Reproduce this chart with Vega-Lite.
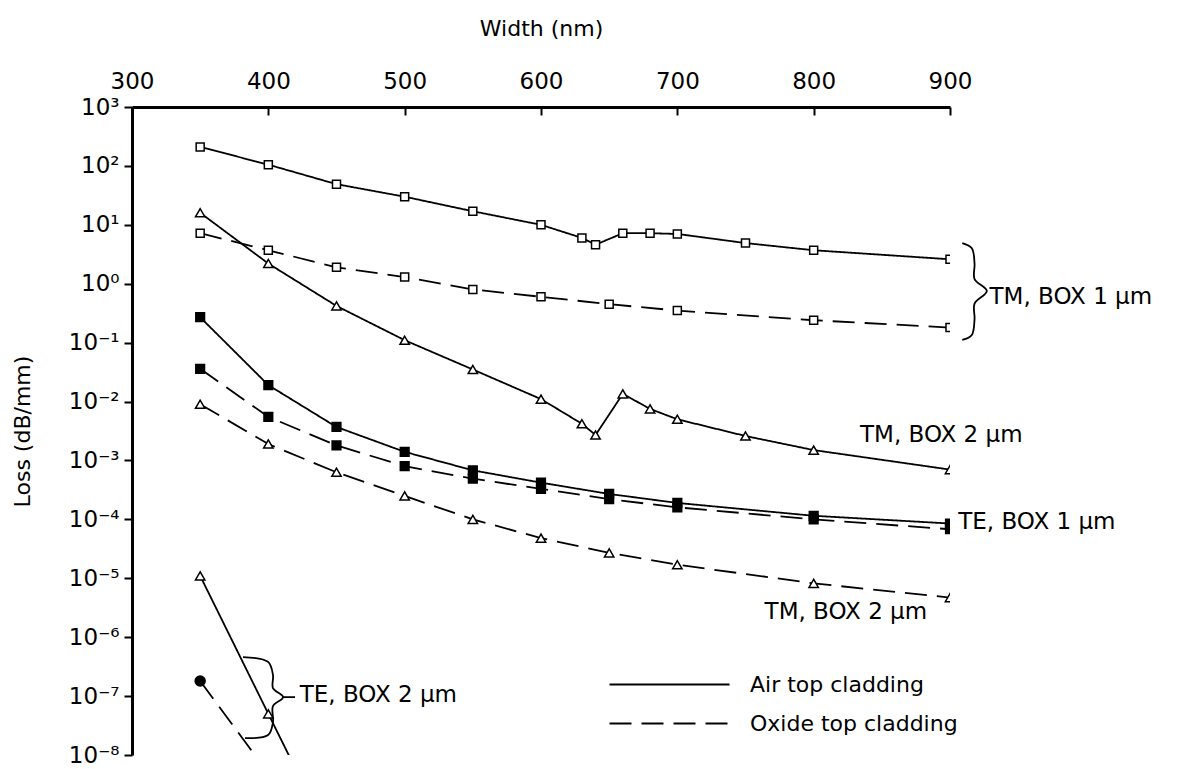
{
  "$schema": "https://vega.github.io/schema/vega-lite/v6.json",
  "width": 818,
  "height": 648,
  "autosize": "none",
  "padding": {"left": 132, "top": 107, "right": 240, "bottom": 14},
  "background": "white",
  "config": {"view": {"stroke": null}, "font": "DejaVu Sans"},
  "datasets": {
    "curves": [
      {"series": "TM BOX1 air", "cladding": "Air top cladding", "marker": "open square", "width": 350, "loss": 210},
      {"series": "TM BOX1 air", "cladding": "Air top cladding", "marker": "open square", "width": 400, "loss": 105},
      {"series": "TM BOX1 air", "cladding": "Air top cladding", "marker": "open square", "width": 450, "loss": 49},
      {"series": "TM BOX1 air", "cladding": "Air top cladding", "marker": "open square", "width": 500, "loss": 30},
      {"series": "TM BOX1 air", "cladding": "Air top cladding", "marker": "open square", "width": 550, "loss": 17},
      {"series": "TM BOX1 air", "cladding": "Air top cladding", "marker": "open square", "width": 600, "loss": 10},
      {"series": "TM BOX1 air", "cladding": "Air top cladding", "marker": "open square", "width": 630, "loss": 6.0},
      {"series": "TM BOX1 air", "cladding": "Air top cladding", "marker": "open square", "width": 640, "loss": 4.6},
      {"series": "TM BOX1 air", "cladding": "Air top cladding", "marker": "open square", "width": 660, "loss": 7.2},
      {"series": "TM BOX1 air", "cladding": "Air top cladding", "marker": "open square", "width": 680, "loss": 7.2},
      {"series": "TM BOX1 air", "cladding": "Air top cladding", "marker": "open square", "width": 700, "loss": 7.0},
      {"series": "TM BOX1 air", "cladding": "Air top cladding", "marker": "open square", "width": 750, "loss": 4.9},
      {"series": "TM BOX1 air", "cladding": "Air top cladding", "marker": "open square", "width": 800, "loss": 3.7},
      {"series": "TM BOX1 air", "cladding": "Air top cladding", "marker": "open square", "width": 900, "loss": 2.6},

      {"series": "TM BOX1 oxide", "cladding": "Oxide top cladding", "marker": "open square", "width": 350, "loss": 7.2},
      {"series": "TM BOX1 oxide", "cladding": "Oxide top cladding", "marker": "open square", "width": 400, "loss": 3.7},
      {"series": "TM BOX1 oxide", "cladding": "Oxide top cladding", "marker": "open square", "width": 450, "loss": 1.9},
      {"series": "TM BOX1 oxide", "cladding": "Oxide top cladding", "marker": "open square", "width": 500, "loss": 1.3},
      {"series": "TM BOX1 oxide", "cladding": "Oxide top cladding", "marker": "open square", "width": 550, "loss": 0.8},
      {"series": "TM BOX1 oxide", "cladding": "Oxide top cladding", "marker": "open square", "width": 600, "loss": 0.6},
      {"series": "TM BOX1 oxide", "cladding": "Oxide top cladding", "marker": "open square", "width": 650, "loss": 0.45},
      {"series": "TM BOX1 oxide", "cladding": "Oxide top cladding", "marker": "open square", "width": 700, "loss": 0.35},
      {"series": "TM BOX1 oxide", "cladding": "Oxide top cladding", "marker": "open square", "width": 800, "loss": 0.24},
      {"series": "TM BOX1 oxide", "cladding": "Oxide top cladding", "marker": "open square", "width": 900, "loss": 0.18},

      {"series": "TM BOX2 air", "cladding": "Air top cladding", "marker": "open triangle", "width": 350, "loss": 16},
      {"series": "TM BOX2 air", "cladding": "Air top cladding", "marker": "open triangle", "width": 400, "loss": 2.2},
      {"series": "TM BOX2 air", "cladding": "Air top cladding", "marker": "open triangle", "width": 450, "loss": 0.42},
      {"series": "TM BOX2 air", "cladding": "Air top cladding", "marker": "open triangle", "width": 500, "loss": 0.11},
      {"series": "TM BOX2 air", "cladding": "Air top cladding", "marker": "open triangle", "width": 550, "loss": 0.035},
      {"series": "TM BOX2 air", "cladding": "Air top cladding", "marker": "open triangle", "width": 600, "loss": 0.011},
      {"series": "TM BOX2 air", "cladding": "Air top cladding", "marker": "open triangle", "width": 630, "loss": 0.0042},
      {"series": "TM BOX2 air", "cladding": "Air top cladding", "marker": "open triangle", "width": 640, "loss": 0.0027},
      {"series": "TM BOX2 air", "cladding": "Air top cladding", "marker": "open triangle", "width": 660, "loss": 0.0135},
      {"series": "TM BOX2 air", "cladding": "Air top cladding", "marker": "open triangle", "width": 680, "loss": 0.0075},
      {"series": "TM BOX2 air", "cladding": "Air top cladding", "marker": "open triangle", "width": 700, "loss": 0.005},
      {"series": "TM BOX2 air", "cladding": "Air top cladding", "marker": "open triangle", "width": 750, "loss": 0.0026},
      {"series": "TM BOX2 air", "cladding": "Air top cladding", "marker": "open triangle", "width": 800, "loss": 0.0015},
      {"series": "TM BOX2 air", "cladding": "Air top cladding", "marker": "open triangle", "width": 900, "loss": 0.0007},

      {"series": "TE BOX1 air", "cladding": "Air top cladding", "marker": "filled square", "width": 350, "loss": 0.27},
      {"series": "TE BOX1 air", "cladding": "Air top cladding", "marker": "filled square", "width": 400, "loss": 0.019},
      {"series": "TE BOX1 air", "cladding": "Air top cladding", "marker": "filled square", "width": 450, "loss": 0.0037},
      {"series": "TE BOX1 air", "cladding": "Air top cladding", "marker": "filled square", "width": 500, "loss": 0.0014},
      {"series": "TE BOX1 air", "cladding": "Air top cladding", "marker": "filled square", "width": 550, "loss": 0.00068},
      {"series": "TE BOX1 air", "cladding": "Air top cladding", "marker": "filled square", "width": 600, "loss": 0.00042},
      {"series": "TE BOX1 air", "cladding": "Air top cladding", "marker": "filled square", "width": 650, "loss": 0.00027},
      {"series": "TE BOX1 air", "cladding": "Air top cladding", "marker": "filled square", "width": 700, "loss": 0.00019},
      {"series": "TE BOX1 air", "cladding": "Air top cladding", "marker": "filled square", "width": 800, "loss": 0.000115},
      {"series": "TE BOX1 air", "cladding": "Air top cladding", "marker": "filled square", "width": 900, "loss": 0.000085},

      {"series": "TE BOX1 oxide", "cladding": "Oxide top cladding", "marker": "filled square", "width": 350, "loss": 0.036},
      {"series": "TE BOX1 oxide", "cladding": "Oxide top cladding", "marker": "filled square", "width": 400, "loss": 0.0055},
      {"series": "TE BOX1 oxide", "cladding": "Oxide top cladding", "marker": "filled square", "width": 450, "loss": 0.0018},
      {"series": "TE BOX1 oxide", "cladding": "Oxide top cladding", "marker": "filled square", "width": 500, "loss": 0.0008},
      {"series": "TE BOX1 oxide", "cladding": "Oxide top cladding", "marker": "filled square", "width": 550, "loss": 0.00049},
      {"series": "TE BOX1 oxide", "cladding": "Oxide top cladding", "marker": "filled square", "width": 600, "loss": 0.00033},
      {"series": "TE BOX1 oxide", "cladding": "Oxide top cladding", "marker": "filled square", "width": 650, "loss": 0.00022},
      {"series": "TE BOX1 oxide", "cladding": "Oxide top cladding", "marker": "filled square", "width": 700, "loss": 0.00016},
      {"series": "TE BOX1 oxide", "cladding": "Oxide top cladding", "marker": "filled square", "width": 800, "loss": 0.0001},
      {"series": "TE BOX1 oxide", "cladding": "Oxide top cladding", "marker": "filled square", "width": 900, "loss": 0.000068},

      {"series": "TM BOX2 oxide", "cladding": "Oxide top cladding", "marker": "open triangle", "width": 350, "loss": 0.009},
      {"series": "TM BOX2 oxide", "cladding": "Oxide top cladding", "marker": "open triangle", "width": 400, "loss": 0.0019},
      {"series": "TM BOX2 oxide", "cladding": "Oxide top cladding", "marker": "open triangle", "width": 450, "loss": 0.00063},
      {"series": "TM BOX2 oxide", "cladding": "Oxide top cladding", "marker": "open triangle", "width": 500, "loss": 0.00025},
      {"series": "TM BOX2 oxide", "cladding": "Oxide top cladding", "marker": "open triangle", "width": 550, "loss": 0.0001},
      {"series": "TM BOX2 oxide", "cladding": "Oxide top cladding", "marker": "open triangle", "width": 600, "loss": 0.000048},
      {"series": "TM BOX2 oxide", "cladding": "Oxide top cladding", "marker": "open triangle", "width": 650, "loss": 0.000027},
      {"series": "TM BOX2 oxide", "cladding": "Oxide top cladding", "marker": "open triangle", "width": 700, "loss": 0.000017},
      {"series": "TM BOX2 oxide", "cladding": "Oxide top cladding", "marker": "open triangle", "width": 800, "loss": 0.0000082},
      {"series": "TM BOX2 oxide", "cladding": "Oxide top cladding", "marker": "open triangle", "width": 900, "loss": 0.0000047},

      {"series": "TE BOX2 air", "cladding": "Air top cladding", "marker": "open triangle", "width": 350, "loss": 0.000011},
      {"series": "TE BOX2 air", "cladding": "Air top cladding", "marker": "open triangle", "width": 400, "loss": 0.00000005},
      {"series": "TE BOX2 air", "cladding": "Air top cladding", "marker": "open triangle", "width": 450, "loss": 0.00000000023},

      {"series": "TE BOX2 oxide", "cladding": "Oxide top cladding", "marker": "dot", "width": 350, "loss": 0.00000018},
      {"series": "TE BOX2 oxide", "cladding": "Oxide top cladding", "marker": "dot", "width": 400, "loss": 0.0000000049}
    ],
    "labels": [
      {"width": 929, "loss": 0.59, "text": "TM, BOX 1 µm"},
      {"width": 834, "loss": 0.0027, "text": "TM, BOX 2 µm"},
      {"width": 906, "loss": 0.000089, "text": "TE, BOX 1 µm"},
      {"width": 764, "loss": 0.0000027, "text": "TM, BOX 2 µm"},
      {"width": 423, "loss": 0.000000105, "text": "TE, BOX 2 µm"}
    ],
    "braces": [
      {"brace": "TM BOX1", "idx": 0, "width": 909, "loss": 4.9},
      {"brace": "TM BOX1", "idx": 1, "width": 916, "loss": 4.0},
      {"brace": "TM BOX1", "idx": 2, "width": 918, "loss": 2.2},
      {"brace": "TM BOX1", "idx": 3, "width": 918, "loss": 1.2},
      {"brace": "TM BOX1", "idx": 4, "width": 927, "loss": 0.75},
      {"brace": "TM BOX1", "idx": 5, "width": 918, "loss": 0.46},
      {"brace": "TM BOX1", "idx": 6, "width": 918, "loss": 0.25},
      {"brace": "TM BOX1", "idx": 7, "width": 916, "loss": 0.135},
      {"brace": "TM BOX1", "idx": 8, "width": 909, "loss": 0.111},
      {"brace": "TE BOX2", "idx": 0, "width": 381.4, "loss": 0.00000046},
      {"brace": "TE BOX2", "idx": 1, "width": 399.8, "loss": 0.00000038},
      {"brace": "TE BOX2", "idx": 2, "width": 403.4, "loss": 0.000000227},
      {"brace": "TE BOX2", "idx": 3, "width": 403.4, "loss": 0.000000137},
      {"brace": "TE BOX2", "idx": 4, "width": 410.8, "loss": 0.000000096},
      {"brace": "TE BOX2", "idx": 5, "width": 403.4, "loss": 0.0000000676},
      {"brace": "TE BOX2", "idx": 6, "width": 403.4, "loss": 0.000000036},
      {"brace": "TE BOX2", "idx": 7, "width": 399.8, "loss": 0.0000000218},
      {"brace": "TE BOX2", "idx": 8, "width": 382.9, "loss": 0.0000000194},
      {"brace": "TE BOX2 leader", "idx": 0, "width": 410.8, "loss": 0.000000096},
      {"brace": "TE BOX2 leader", "idx": 1, "width": 419.6, "loss": 0.000000096}
    ]
  },
  "layer": [
    {
      "data": {"name": "curves"},
      "mark": {"type": "line", "clip": true, "strokeWidth": 1.8, "color": "black"},
      "encoding": {
        "x": {
          "field": "width", "type": "quantitative",
          "scale": {"domain": [300, 900], "nice": false, "zero": false},
          "axis": {
            "orient": "top", "title": "Width (nm)", "values": [300, 400, 500, 600, 700, 800, 900],
            "grid": false, "domainColor": "black", "domainWidth": 3, "tickColor": "black", "tickWidth": 2, "tickSize": -8,
            "labelFont": "DejaVu Sans", "labelFontSize": 23, "labelColor": "black", "labelPadding": 22, "labelFlush": false, "labelOverlap": false,
            "titleFont": "DejaVu Sans", "titleFontSize": 22, "titleFontWeight": "normal", "titleColor": "black", "titlePadding": 30
          }
        },
        "y": {
          "field": "loss", "type": "quantitative",
          "scale": {"type": "log", "domain": [1e-8, 1000], "nice": false},
          "axis": {
            "title": "Loss (dB/mm)", "values": [1000, 100, 10, 1, 0.1, 0.01, 0.001, 0.0001, 0.00001, 0.000001, 0.0000001, 0.00000001],
            "labelExpr": "'10' + (round(log(datum.value)/LN10) < 0 ? '⁻' : '') + ['⁰','¹','²','³','⁴','⁵','⁶','⁷','⁸','⁹'][abs(round(log(datum.value)/LN10))]",
            "grid": false, "domainColor": "black", "domainWidth": 3, "tickColor": "black", "tickWidth": 2, "tickSize": 8,
            "labelFont": "DejaVu Sans", "labelFontSize": 23, "labelColor": "black", "labelPadding": 5, "labelOverlap": false, "labelFlush": false,
            "titleFont": "DejaVu Sans", "titleFontSize": 22, "titleFontWeight": "normal", "titleColor": "black", "titlePadding": 34
          }
        },
        "detail": {"field": "series"},
        "order": {"field": "width", "type": "quantitative"},
        "strokeDash": {
          "field": "cladding", "type": "nominal",
          "scale": {"domain": ["Air top cladding", "Oxide top cladding"], "range": [[1, 0], [22, 10]]},
          "legend": {
            "orient": "none", "legendX": 526, "legendY": 566, "title": null, "padding": 0,
            "symbolType": "M-6,0H6", "symbolSize": 400, "symbolStrokeWidth": 2.2, "symbolStrokeColor": "black",
            "labelFont": "DejaVu Sans", "labelFontSize": 22, "labelColor": "black", "labelOffset": 69, "labelLimit": 400,
            "rowPadding": 16
          }
        }
      }
    },
    {
      "data": {"name": "curves"},
      "mark": {"type": "point", "filled": true, "clip": true, "stroke": "black", "strokeWidth": 1.5, "opacity": 1},
      "encoding": {
        "x": {"field": "width", "type": "quantitative"},
        "y": {"field": "loss", "type": "quantitative"},
        "shape": {"field": "marker", "type": "nominal", "legend": null,
          "scale": {"domain": ["open square", "filled square", "open triangle", "dot"], "range": ["square", "square", "triangle-up", "circle"]}},
        "fill": {"field": "marker", "type": "nominal", "legend": null,
          "scale": {"domain": ["open square", "filled square", "open triangle", "dot"], "range": ["white", "black", "white", "black"]}},
        "size": {"field": "marker", "type": "nominal", "legend": null,
          "scale": {"domain": ["open square", "filled square", "open triangle", "dot"], "range": [64, 100, 80, 10]}}
      }
    },
    {
      "data": {"name": "braces"},
      "mark": {"type": "line", "interpolate": "catmull-rom", "strokeWidth": 1.8, "color": "black", "clip": false},
      "encoding": {
        "x": {"field": "width", "type": "quantitative"},
        "y": {"field": "loss", "type": "quantitative"},
        "detail": {"field": "brace"},
        "order": {"field": "idx", "type": "quantitative"}
      }
    },
    {
      "data": {"name": "labels"},
      "mark": {"type": "text", "align": "left", "baseline": "middle", "font": "DejaVu Sans", "fontSize": 23, "color": "black"},
      "encoding": {
        "x": {"field": "width", "type": "quantitative"},
        "y": {"field": "loss", "type": "quantitative"},
        "text": {"field": "text"}
      }
    }
  ]
}
